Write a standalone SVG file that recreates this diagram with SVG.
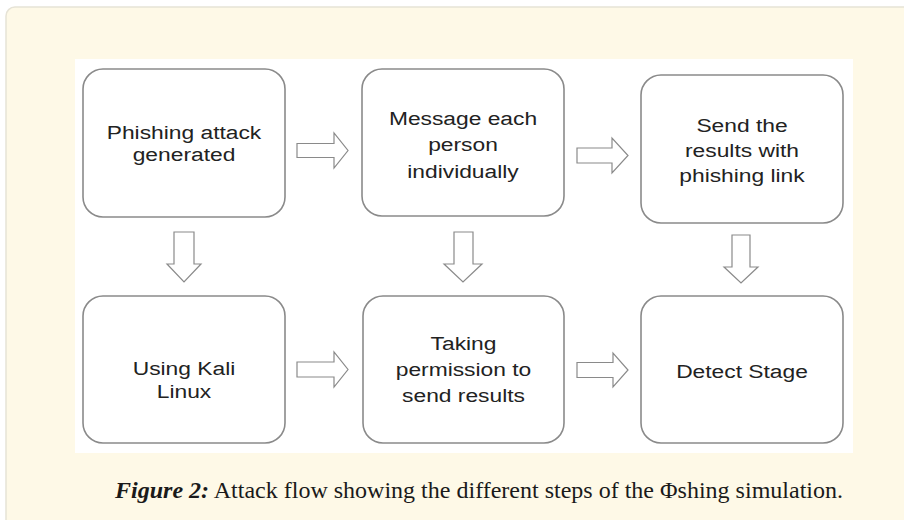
<svg xmlns="http://www.w3.org/2000/svg" width="904" height="520" viewBox="0 0 904 520">
<style>
.panel{fill:#fef9e7;stroke:#e6e3d6;stroke-width:1.5}
.box{fill:#ffffff;stroke:#8a8a8a;stroke-width:1.6}
.lbl{font-family:"Liberation Sans",Arial,sans-serif;font-size:19px;fill:#222;text-anchor:middle}
.arr{fill:#ffffff;stroke:#8a8a8a;stroke-width:1.2;stroke-linejoin:miter}
.cap{font-family:"Liberation Serif","Times New Roman",serif;font-size:23px;fill:#1a1a1a}
</style>
<rect class="panel" x="6" y="7" width="920" height="540" rx="9"/>
<rect x="75" y="59" width="778" height="394" fill="#ffffff"/>

<g id="connectors">
  <path class="arr" d="M297,143.5 H334 V133 L348,150.5 L334,168 V157.5 H297 Z"/>
  <path class="arr" d="M577,148 H612 V138 L628,155.5 L612,173 V163 H577 Z"/>
  <path class="arr" d="M297,362 H334 V352 L348,369.5 L334,387 V377 H297 Z"/>
  <path class="arr" d="M577,362.5 H613 V353 L628,370 L613,387 V377.5 H577 Z"/>
  <path class="arr" d="M174,232 H194 V264 H201 L184,282 L167,264 H174 Z"/>
  <path class="arr" d="M454,232 H473 V264 H482 L463,282 L444,264 H454 Z"/>
  <path class="arr" d="M732,235 H750 V267 H758 L741,283 L724,267 H732 Z"/>
</g>

<g id="n1">
  <rect class="box" x="83" y="69" width="202" height="148" rx="20"/>
  <g transform="translate(184 0) scale(1.2 1)">
    <text class="lbl" x="0" y="139">Phishing attack</text>
    <text class="lbl" x="0" y="161">generated</text>
  </g>
</g>
<g id="n2">
  <rect class="box" x="362" y="69" width="202" height="147" rx="20"/>
  <g transform="translate(463 0) scale(1.2 1)">
    <text class="lbl" x="0" y="125">Message each</text>
    <text class="lbl" x="0" y="151">person</text>
    <text class="lbl" x="0" y="178">individually</text>
  </g>
</g>
<g id="n3">
  <rect class="box" x="641" y="75" width="202" height="148" rx="20"/>
  <g transform="translate(742 0) scale(1.2 1)">
    <text class="lbl" x="0" y="132">Send the</text>
    <text class="lbl" x="0" y="157">results with</text>
    <text class="lbl" x="0" y="182">phishing link</text>
  </g>
</g>
<g id="n4">
  <rect class="box" x="83" y="296" width="202" height="147" rx="20"/>
  <g transform="translate(184 0) scale(1.2 1)">
    <text class="lbl" x="0" y="375">Using Kali</text>
    <text class="lbl" x="0" y="398">Linux</text>
  </g>
</g>
<g id="n5">
  <rect class="box" x="363" y="296" width="201" height="147" rx="20"/>
  <g transform="translate(463.5 0) scale(1.2 1)">
    <text class="lbl" x="0" y="350">Taking</text>
    <text class="lbl" x="0" y="376">permission to</text>
    <text class="lbl" x="0" y="402">send results</text>
  </g>
</g>
<g id="n6">
  <rect class="box" x="641" y="296" width="202" height="147" rx="20"/>
  <g transform="translate(742 0) scale(1.2 1)">
    <text class="lbl" x="0" y="378">Detect Stage</text>
  </g>
</g>

<g id="caption">
  <text class="cap" x="115" y="498" textLength="728" lengthAdjust="spacingAndGlyphs"><tspan font-weight="bold" font-style="italic">Figure 2:</tspan> Attack flow showing the different steps of the Φshing simulation.</text>
</g>
</svg>
